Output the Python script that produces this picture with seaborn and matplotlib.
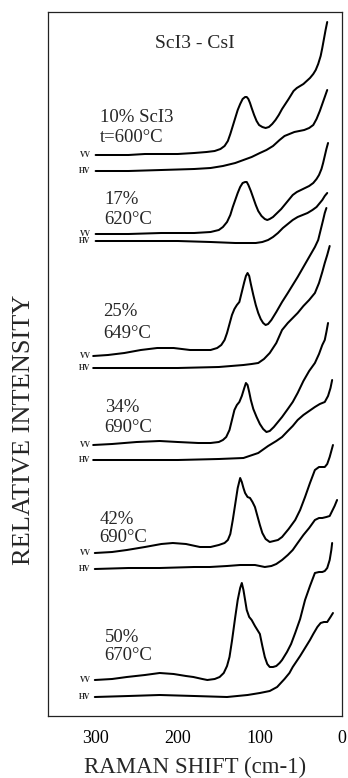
import numpy as np
import pandas as pd
import matplotlib
matplotlib.use("Agg")
import matplotlib.pyplot as plt
import seaborn as sns

# ---- data (Raman shift in cm-1, relative intensity incl. stacking offset) ----
samples = ["10% ScI3", "17%", "25%", "34%", "42%", "50%"]
temps = ["t=600°C", "620°C", "649°C", "690°C", "690°C", "670°C"]
pol_labels = ["VV", "HV"]

vv10_x = [300, 280, 260, 240, 220, 200, 180, 165, 155, 148, 143, 139, 136, 133, 130, 127, 124, 121, 118, 116, 114, 112, 110, 107, 104, 101, 97, 93, 89, 85, 81, 77, 73, 69, 65, 62, 59, 55, 51, 47, 43, 39, 35, 32, 29, 26, 24, 22, 20, 18]
vv10_y = [561, 561, 561, 562, 562, 562, 563, 564, 565, 567, 570, 575, 582, 590, 598, 606, 612, 617, 619, 619, 617, 613, 608, 601, 595, 591, 589, 588, 589, 592, 596, 601, 607, 612, 617, 621, 625, 628, 630, 632, 635, 638, 642, 646, 652, 660, 668, 677, 686, 694]
hv10_x = [300, 260, 220, 180, 160, 145, 130, 120, 110, 100, 92, 84, 76, 70, 64, 58, 52, 46, 40, 35, 31, 27, 24, 21, 18]
hv10_y = [545, 545, 546, 547, 548, 550, 553, 556, 559, 563, 566, 570, 576, 580, 582, 584, 585, 586, 588, 591, 597, 605, 612, 619, 626]

vv17_x = [300, 260, 220, 180, 160, 150, 145, 140, 136, 133, 130, 127, 124, 121, 118, 116, 114, 111, 108, 105, 102, 98, 94, 91, 88, 84, 79, 74, 69, 64, 60, 55, 50, 45, 40, 35, 31, 28, 25, 23, 21, 19, 17]
vv17_y = [482, 482, 483, 483, 484, 486, 489, 494, 501, 509, 516, 523, 529, 533, 534, 534, 531, 525, 518, 511, 505, 500, 497, 496, 497, 499, 503, 507, 512, 517, 521, 524, 526, 528, 530, 533, 537, 541, 547, 553, 560, 567, 573]
hv17_x = [300, 250, 200, 160, 130, 115, 105, 97, 90, 84, 78, 72, 66, 60, 54, 48, 42, 36, 31, 27, 24, 21, 18]
hv17_y = [475, 475, 475, 474, 473, 473, 473, 474, 476, 479, 483, 488, 492, 496, 499, 501, 503, 506, 509, 513, 516, 520, 523]

vv25_x = [303, 285, 265, 245, 225, 205, 185, 170, 160, 152, 147, 143, 140, 137, 134, 131, 128, 125, 122, 119, 117, 115, 113, 111, 108, 105, 102, 99, 96, 93, 90, 86, 80, 73, 66, 60, 54, 47, 40, 33, 29, 26, 23, 21, 19]
vv25_y = [360, 361, 363, 366, 368, 368, 366, 366, 366, 368, 371, 376, 383, 392, 401, 407, 411, 414, 424, 434, 440, 443, 440, 432, 421, 411, 403, 397, 393, 391, 392, 396, 404, 414, 423, 431, 439, 449, 459, 469, 476, 486, 496, 503, 508]
hv25_x = [303, 250, 200, 150, 120, 110, 102, 95, 88, 80, 73, 66, 60, 54, 47, 40, 33, 28, 24, 21, 18, 15]
hv25_y = [348, 348, 348, 349, 351, 352, 353, 357, 363, 373, 386, 393, 398, 403, 410, 416, 423, 433, 444, 453, 461, 470]

vv34_x = [303, 280, 250, 222, 200, 175, 160, 150, 145, 141, 137, 134, 131, 128, 125, 122, 119, 117, 115, 113, 111, 108, 104, 100, 96, 92, 88, 83, 78, 73, 66, 60, 54, 47, 40, 33, 28, 24, 21, 19, 17]
vv34_y = [271, 272, 274, 275, 274, 273, 273, 274, 276, 279, 286, 296, 306, 311, 314, 320, 328, 333, 331, 324, 316, 307, 299, 292, 287, 284, 285, 289, 294, 299, 307, 314, 323, 335, 345, 353, 362, 371, 376, 384, 393]
hv34_x = [303, 250, 200, 150, 120, 102, 90, 80, 73, 66, 60, 54, 47, 40, 33, 27, 21, 17, 14, 12]
hv34_y = [256, 256, 256, 257, 258, 263, 270, 275, 279, 285, 290, 296, 301, 305, 309, 312, 314, 320, 328, 336]

vv42_x = [301, 280, 262, 240, 220, 206, 190, 173, 160, 150, 143, 139, 136, 133, 130, 127, 124, 122, 120, 118, 115, 112, 109, 106, 103, 100, 97, 93, 88, 83, 78, 73, 65, 57, 51, 45, 39, 33, 28, 24, 21, 18, 15, 13, 11]
vv42_y = [163, 164, 166, 169, 172, 173, 172, 169, 169, 171, 173, 176, 182, 196, 212, 228, 238, 234, 228, 223, 219, 218, 214, 209, 200, 191, 183, 177, 174, 175, 176, 179, 187, 196, 206, 219, 233, 246, 249, 249, 249, 252, 259, 265, 271]
hv42_x = [301, 260, 222, 180, 161, 140, 124, 115, 106, 100, 94, 86, 80, 73, 66, 60, 54, 47, 40, 33, 28, 24, 19, 15, 12, 9, 6]
hv42_y = [147, 148, 148, 149, 149, 150, 151, 151, 151, 150, 149, 150, 152, 156, 161, 166, 173, 181, 188, 196, 198, 198, 199, 200, 205, 210, 216]

vv50_x = [301, 280, 262, 240, 222, 205, 190, 181, 170, 164, 155, 149, 144, 140, 137, 134, 130, 127, 124, 122, 120, 118, 116, 113, 110, 106, 103, 100, 97, 94, 91, 88, 84, 80, 76, 73, 67, 62, 57, 51, 45, 39, 33, 28, 24, 21, 18, 15, 13, 12]
vv50_y = [36, 37, 39, 41, 43, 42, 40, 39, 37, 36, 37, 39, 43, 50, 59, 75, 99, 116, 128, 133, 126, 116, 106, 99, 96, 90, 86, 82, 70, 59, 52, 49, 49, 50, 53, 56, 64, 72, 83, 97, 116, 130, 143, 144, 144, 145, 148, 156, 166, 173]
hv50_x = [301, 260, 222, 180, 140, 115, 100, 88, 79, 70, 64, 60, 51, 45, 39, 35, 30, 26, 22, 18, 14, 11]
hv50_y = [19, 20, 21, 20, 19, 21, 23, 25, 29, 37, 43, 49, 60, 68, 76, 82, 89, 93, 94, 94, 99, 103]

traces = [
    ("10% VV", vv10_x, vv10_y), ("10% HV", hv10_x, hv10_y),
    ("17% VV", vv17_x, vv17_y), ("17% HV", hv17_x, hv17_y),
    ("25% VV", vv25_x, vv25_y), ("25% HV", hv25_x, hv25_y),
    ("34% VV", vv34_x, vv34_y), ("34% HV", hv34_x, hv34_y),
    ("42% VV", vv42_x, vv42_y), ("42% HV", hv42_x, hv42_y),
    ("50% VV", vv50_x, vv50_y), ("50% HV", hv50_x, hv50_y),
]

rows = []
for name, xs, ys in traces:
    for i, (x, y) in enumerate(zip(xs, ys)):
        rows.append({"trace": name, "order": i, "shift": x, "intensity": y})
df = pd.DataFrame(rows)

# ---- style ----
sns.set_style("white")
plt.rcParams["font.family"] = ["Liberation Serif", "DejaVu Serif"]

fig = plt.figure(figsize=(3.48, 7.78), dpi=100)
W, H = 348, 778
ax = fig.add_axes([48 / W, (H - 716) / H, (342 - 48) / W, 704 / H])

sns.lineplot(data=df, x="shift", y="intensity", units="trace", estimator=None,
             sort=False, color="black", linewidth=1.45, ax=ax, legend=False)
for ln in ax.get_lines():
    ln.set_solid_joinstyle("round")
    ln.set_solid_capstyle("round")

ax.set_xlim(358, 0)
ax.set_ylim(0, 704)
ax.set_xticks([300, 200, 100, 0])
ax.set_xticklabels(["300", "200", "100", "0"], fontsize=13)
ax.set_yticks([])
ax.tick_params(axis="x", direction="in", length=6, width=1.0, pad=10, colors="black")
ax.set_xlabel("")
ax.set_ylabel("")
for s in ax.spines.values():
    s.set_color("#222222")
    s.set_linewidth(0.9)

# ---- annotations ----
ax.text(179, 673, "ScI3 - CsI", fontsize=14, ha="center", va="center")
ann_x = [295, 289, 291, 289, 295, 289]
ann_top = [599, 516, 404, 308, 196, 79]
ann_bot = [579, 496, 383, 288, 178, 61]
for i in range(6):
    ax.text(ann_x[i], ann_top[i], samples[i], fontsize=13.5, ha="left", va="center")
    ax.text(ann_x[i], ann_bot[i], temps[i], fontsize=13.5, ha="left", va="center")

# polarization labels next to trace starts
for k, (name, xs, ys) in enumerate(traces):
    lab = pol_labels[k % 2]
    ax.text(306, ys[0], lab, fontsize=5.5, ha="right", va="center", fontweight="bold")

fig.text(195 / W, 1 - 767 / H, "RAMAN SHIFT (cm-1)", fontsize=16.5, ha="center", va="center")
fig.text(24 / W, 1 - 430 / H, "RELATIVE INTENSITY", fontsize=19, ha="center", va="center",
         rotation=90)

fig.savefig("out.png", dpi=100, facecolor="white")
